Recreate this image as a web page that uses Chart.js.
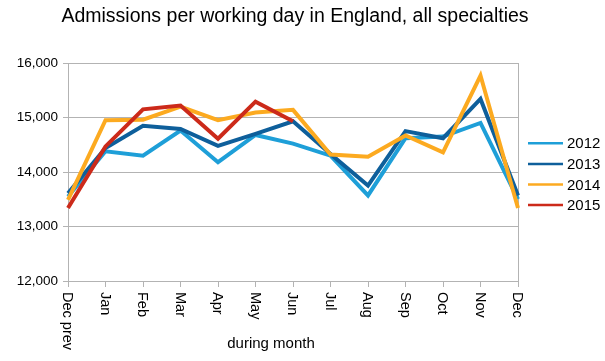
<!DOCTYPE html>
<html>
<head>
<meta charset="utf-8">
<script src="https://cdn.jsdelivr.net/npm/chart.js@4/dist/chart.umd.min.js"></script>
<style>
html,body{margin:0;padding:0;background:#fff;}
#c{display:block;}
</style>
</head>
<body>
<canvas id="c" width="605" height="361"></canvas>
<script>
const titleText = "Admissions per working day in England, all specialties";
const xAxisTitle = "during month";
const categories = ["Dec prev","Jan","Feb","Mar","Apr","May","Jun","Jul","Aug","Sep","Oct","Nov","Dec"];
const seriesNames = ["2012","2013","2014","2015"];
const values2012 = [13550,14380,14300,14760,14180,14680,14520,14300,13570,14620,14650,14900,13500];
const values2013 = [13610,14440,14850,14790,14480,14700,14930,14330,13750,14750,14620,15340,13570];
const values2014 = [13490,14950,14960,15200,14950,15090,15140,14320,14280,14670,14360,15770,13340];
const values2015 = [13340,14470,15150,15220,14610,15290,14930,null,null,null,null,null,null];
const yTicks = [12000,13000,14000,15000,16000];

const colors = ["#1e9fd8","#0e5f9b","#fcaa20","#cc2a1a"];
const FONT = "'Liberation Sans', Arial, Helvetica, sans-serif";
const GRID = "#b3b3b3";

const extras = {
  id: 'extras',
  afterDraw(chart) {
    const ctx = chart.ctx;
    const xs = chart.scales.x;
    ctx.save();
    ctx.fillStyle = '#000';
    // title
    ctx.font = "19.5px " + FONT;
    ctx.textAlign = 'center';
    ctx.textBaseline = 'alphabetic';
    ctx.fillText(titleText, 295, 22);
    // x labels rotated clockwise
    ctx.font = "14.5px " + FONT;
    categories.forEach((lab, i) => {
      const x = xs.getPixelForValue(i);
      ctx.save();
      ctx.translate(x - 1, 292);
      ctx.rotate(Math.PI / 2);
      ctx.textAlign = 'left';
      ctx.textBaseline = 'middle';
      ctx.fillText(lab, 0, 0);
      ctx.restore();
    });
    // axis title
    ctx.font = "15px " + FONT;
    ctx.textAlign = 'center';
    ctx.textBaseline = 'alphabetic';
    ctx.fillText(xAxisTitle, 271, 348);
    // legend
    chart.data.datasets.forEach((ds, i) => {
      const y = 143.3 + i * 20.6;
      ctx.strokeStyle = ds.borderColor;
      ctx.lineWidth = 2.5;
      ctx.beginPath();
      ctx.moveTo(528, y);
      ctx.lineTo(563, y);
      ctx.stroke();
      ctx.fillStyle = '#000';
      ctx.font = "15px " + FONT;
      ctx.textAlign = 'left';
      ctx.textBaseline = 'middle';
      ctx.fillText(ds.label, 567, y + 1);
    });
    ctx.restore();
  }
};

const allValues = [values2012, values2013, values2014, values2015];
new Chart(document.getElementById('c'), {
  type: 'line',
  data: {
    labels: categories,
    datasets: seriesNames.map((n, i) => ({
      label: n,
      data: allValues[i],
      borderColor: colors[i],
      backgroundColor: colors[i],
      borderWidth: 4,
      pointRadius: 0,
      tension: 0,
      fill: false,
      order: 4 - i,
      spanGaps: false
    }))
  },
  options: {
    responsive: false,
    animation: false,
    devicePixelRatio: 1,
    layout: { padding: { top: 63, right: 87, left: 0, bottom: 0 } },
    plugins: { legend: { display: false }, title: { display: false }, tooltip: { enabled: false } },
    scales: {
      x: {
        type: 'category',
        offset: false,
        ticks: { display: false },
        grid: {
          color: (c) => c.index === categories.length - 1 ? GRID : 'rgba(0,0,0,0)',
          tickColor: GRID,
          tickLength: 6,
          lineWidth: 1,
          drawOnChartArea: true
        },
        border: { display: true, color: GRID },
        afterFit: (s) => { s.height = 80; }
      },
      y: {
        min: 12000,
        max: 16000,
        afterBuildTicks: (s) => { s.ticks = yTicks.map(v => ({ value: v })); },
        ticks: {
          color: '#000',
          font: { family: FONT, size: 13.5 },
          padding: 5,
          callback: (v) => v.toLocaleString('en-US')
        },
        grid: { color: GRID, tickColor: GRID, tickLength: 5, lineWidth: 1 },
        border: { display: true, color: GRID },
        afterFit: (s) => { s.width = 68; }
      }
    }
  },
  plugins: [extras]
});
</script>
</body>
</html>
